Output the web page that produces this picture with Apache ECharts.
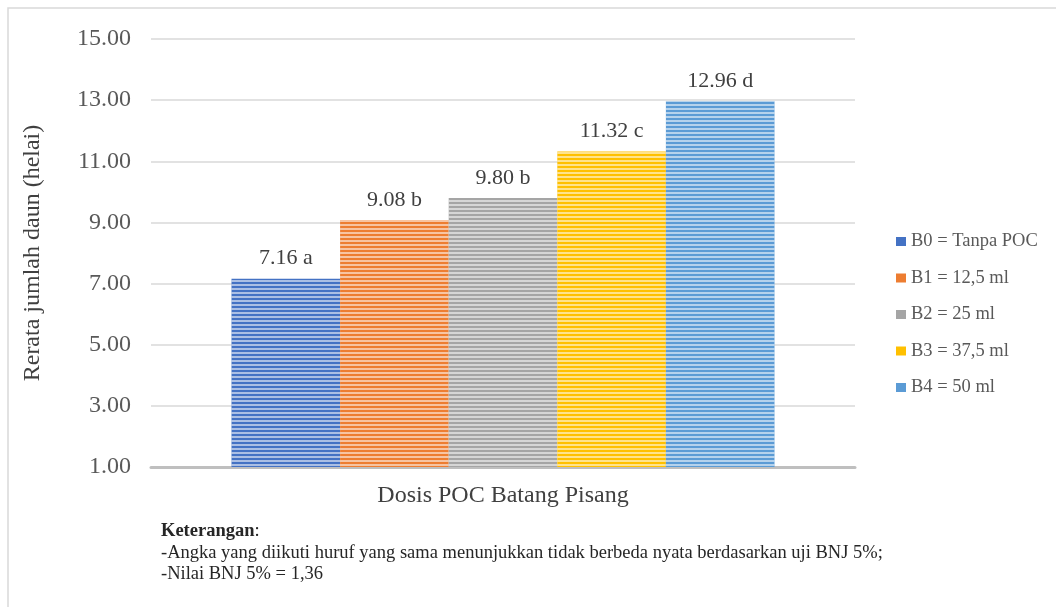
<!DOCTYPE html>
<html><head><meta charset="utf-8">
<script src="https://cdn.jsdelivr.net/npm/echarts@6/dist/echarts.min.js"></script>
<style>html,body{margin:0;padding:0;background:#fff}#c{width:1056px;height:607px}</style>
</head><body><div id="c"></div>
<script>
const categories = ['Dosis POC Batang Pisang'];
const seriesNames = ['B0 = Tanpa POC', 'B1 = 12,5 ml', 'B2 = 25 ml', 'B3 = 37,5 ml', 'B4 = 50 ml'];
const seriesValues = [7.16, 9.08, 9.80, 11.32, 12.96];
const letters = ['a', 'b', 'b', 'c', 'd'];
const colors = ['#4472C4', '#ED7D31', '#A5A5A5', '#FFC000', '#5B9BD5'];
const yTicks = [1, 3, 5, 7, 9, 11, 13, 15];
const noteTitle = 'Keterangan';
const noteLines = ['-Angka yang diikuti huruf yang sama menunjukkan tidak berbeda nyata berdasarkan uji BNJ 5%;', '-Nilai BNJ 5% = 1,36'];

const font = '"Liberation Serif", "Times New Roman", serif';
const chart = echarts.init(document.getElementById('c'));
const series = seriesNames.map((n, i) => ({
  name: n, type: 'bar', barWidth: 108.6, barGap: '0%',
  data: [seriesValues[i]],
  itemStyle: { color: colors[i], decal: { symbol: 'rect', symbolSize: 1, dashArrayX: [1, 0], dashArrayY: [2, 2], rotation: 0, color: 'rgba(255,255,255,0.55)' } },
  label: { show: true, position: 'top', distance: 9, fontFamily: font, fontSize: 22, color: '#404040',
    formatter: p => p.value.toFixed(2) + ' ' + letters[i] }
}));
chart.setOption({
  animation: false,
  aria: { enabled: true, decal: { show: true } },
  grid: { left: 151, right: 201, top: 39, bottom: 140 },
  xAxis: { type: 'category', data: categories,
    axisLine: { lineStyle: { color: '#bfbfbf', width: 3 } }, axisTick: { show: false },
    axisLabel: { show: false },
    name: categories[0], nameLocation: 'middle', nameGap: 17,
    nameTextStyle: { fontFamily: font, fontSize: 24, color: '#404040' } },
  yAxis: { type: 'value', min: yTicks[0], max: yTicks[yTicks.length - 1], interval: yTicks[1] - yTicks[0],
    axisLine: { show: false }, axisTick: { show: false },
    splitLine: { lineStyle: { color: '#d9d9d9', width: 1.5 } },
    axisLabel: { fontFamily: font, fontSize: 24, color: '#595959', margin: 20, formatter: v => v.toFixed(2) },
    name: 'Rerata jumlah daun (helai)', nameLocation: 'middle', nameGap: 106, nameRotate: 90,
    nameTextStyle: { fontFamily: font, fontSize: 24, color: '#404040' } },
  legend: { orient: 'vertical', left: 891, top: 227, itemWidth: 10, itemHeight: 9, itemGap: 17.5, itemTextGap: 4,
    icon: 'rect', data: seriesNames, itemStyle: { decal: 'none' },
    textStyle: { fontFamily: font, fontSize: 18.5, color: '#595959', lineHeight: 19 } },
  graphic: [
    { type: 'rect', silent: true, shape: { x: 8, y: 8, width: 1100, height: 700 }, style: { fill: 'none', stroke: '#d9d9d9', lineWidth: 1.5 } },
    { type: 'text', left: 161, top: 522, style: { text: '{b|' + noteTitle + '}:', fontFamily: font, fontSize: 18.5, fill: '#262626',
      rich: { b: { fontFamily: font, fontSize: 18.5, fontWeight: 'bold', fill: '#262626' } } } },
    { type: 'text', left: 161, top: 544, style: { text: noteLines[0], fontFamily: font, fontSize: 18.5, fill: '#262626' } },
    { type: 'text', left: 161, top: 565, style: { text: noteLines[1], fontFamily: font, fontSize: 18.5, fill: '#262626' } }
  ],
  series: series
});
</script></body></html>
